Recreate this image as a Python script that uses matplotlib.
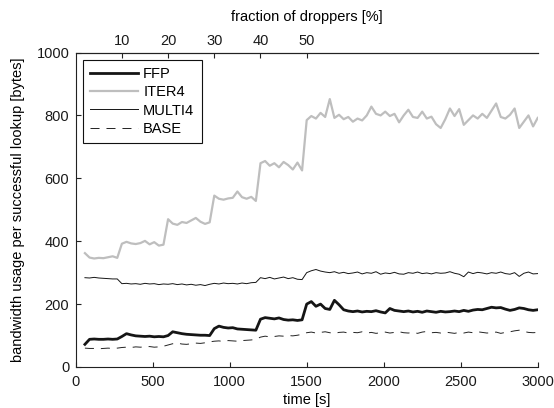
import numpy as np
import matplotlib
matplotlib.use("Agg")
import matplotlib.pyplot as plt

# ---- data ----
time_s = np.arange(60, 3001, 30)  # sample times [s]

ffp = [72, 88, 89, 88, 88, 89, 88, 89,
       97, 106, 102, 99, 98, 97, 98, 96, 97, 96,
       100, 112, 109, 106, 104, 103, 102, 101, 101, 100,
       122, 130, 126, 124, 125, 121, 120, 119, 118, 117,
       152, 157, 155, 153, 156, 151, 149, 150, 148, 150,
       200, 208, 193, 200, 186, 183, 212, 198, 182, 178,
       176, 178, 175, 177, 176, 179, 175, 172, 186, 180,
       178, 176, 178, 175, 177, 174, 178, 176, 174, 177,
       175, 176, 178, 176, 180, 177, 181, 183, 182, 186,
       190, 188, 189, 184, 180, 183, 188, 186, 182, 180,
       182]

iter4 = [362, 348, 345, 347, 346, 349, 352, 347,
         392, 398, 393, 391, 394, 401, 390, 397, 386, 389,
         470, 456, 452, 461, 458, 466, 474, 462, 455, 460,
         545, 535, 532, 536, 538, 558, 540, 535, 541, 528,
         648, 655, 640, 648, 635, 652, 642, 628, 650, 625,
         785, 798, 790, 808, 795, 852, 792, 802, 788, 795,
         780, 790, 784, 800, 828, 805, 800, 812, 798, 805,
         778, 800, 818, 795, 792, 812, 790, 796, 772, 760,
         788, 822, 798, 820, 770, 785, 800, 790, 805, 792,
         815, 838, 795, 790, 802, 822, 760, 780, 800, 765,
         792]

multi4 = [284, 283, 285, 283, 282, 281, 280, 280,
          265, 266, 264, 265, 263, 266, 264, 265, 262, 264,
          263, 265, 262, 264, 261, 263, 260, 262, 259, 263,
          266, 264, 267, 265, 266, 264, 267, 265, 268, 269,
          284, 281, 285, 280, 283, 286, 281, 284, 279, 278,
          300, 306, 310, 305, 302, 300, 303, 298, 301, 297,
          299, 302, 296, 300, 298, 303, 295, 299, 297, 301,
          296, 295, 300, 298, 302, 297, 299, 296, 300, 298,
          299, 303, 298, 295, 287, 302, 297, 301, 299, 296,
          300, 298, 302, 297, 295, 300, 288, 298, 302, 296,
          297]

base = [60, 59, 59, 58, 59, 60, 59, 60,
        62, 63, 62, 64, 63, 64, 65, 63, 64, 66,
        70, 74, 76, 73, 72, 74, 76, 75, 77, 80,
        82, 83, 81, 84, 83, 82, 84, 85, 86, 88,
        95, 98, 96, 97, 99, 98, 100, 99, 101, 104,
        109, 111, 108, 110, 112, 109, 107, 110, 111, 108,
        110, 109, 112, 108, 110, 107, 109, 111, 108, 110,
        112, 109, 108, 110, 107, 111, 113, 109, 110, 108,
        111, 109, 107, 110, 108, 111, 109, 112, 110, 108,
        109, 111, 107, 110, 112, 115, 117, 113, 110, 109,
        110]

x_ticks = [0, 500, 1000, 1500, 2000, 2500, 3000]
y_ticks = [0, 200, 400, 600, 800, 1000]
top_ticks_pct = [10, 20, 30, 40, 50]
seconds_per_pct = 30

# ---- style ----
plt.rcParams["font.family"] = ["Liberation Sans", "DejaVu Sans"]
plt.rcParams["font.size"] = 10.5
plt.rcParams["lines.scale_dashes"] = False

fig = plt.figure(figsize=(5.54, 4.08), dpi=100)
ax = fig.add_axes([0.1366, 0.1005, 0.834, 0.7708])

ax.plot(time_s, ffp, color="#151515", lw=2.0, label="FFP", zorder=4)
ax.plot(time_s, iter4, color="#bebebe", lw=1.6, label="ITER4", zorder=3)
ax.plot(time_s, multi4, color="#151515", lw=0.7, label="MULTI4", zorder=3)
ax.plot(time_s, base, color="#222222", lw=0.7, dashes=(6.5, 5), label="BASE", zorder=3)

ax.set_xlim(0, 3000)
ax.set_ylim(0, 1000)
ax.set_xticks(x_ticks)
ax.set_yticks(y_ticks)
ax.spines["right"].set_visible(False)
for s in ("left", "bottom", "top"):
    ax.spines[s].set_linewidth(0.8)
    ax.spines[s].set_color("#222222")
ax.tick_params(axis="x", direction="in", length=3.5, width=0.8, top=False, pad=5.5, colors="#222222")
ax.tick_params(axis="y", direction="in", length=3.5, width=0.8, right=False, pad=4.6, colors="#222222")
ax.tick_params(labelcolor="#1a1a1a")
ax.set_xlabel("time [s]", labelpad=3)
ax.set_ylabel("bandwidth usage per successful lookup [bytes]", labelpad=8)

secax = ax.secondary_xaxis("top", functions=(lambda t: t / seconds_per_pct,
                                              lambda p: p * seconds_per_pct))
secax.set_xticks(top_ticks_pct)
secax.tick_params(direction="in", length=3.5, width=0.8, pad=3.5, colors="#222222", labelcolor="#1a1a1a")
secax.spines["top"].set_linewidth(0.8)
secax.spines["top"].set_color("#222222")
secax.set_xlabel("fraction of droppers [%]", labelpad=9)

leg = ax.legend(loc="upper left", frameon=True, fancybox=False, framealpha=1,
                edgecolor="#111111", handlelength=3.3, handletextpad=0.35,
                labelspacing=0.3, borderpad=0.5, borderaxespad=0.48)
leg.get_frame().set_linewidth(0.8)

fig.savefig("out.png", dpi=100)
